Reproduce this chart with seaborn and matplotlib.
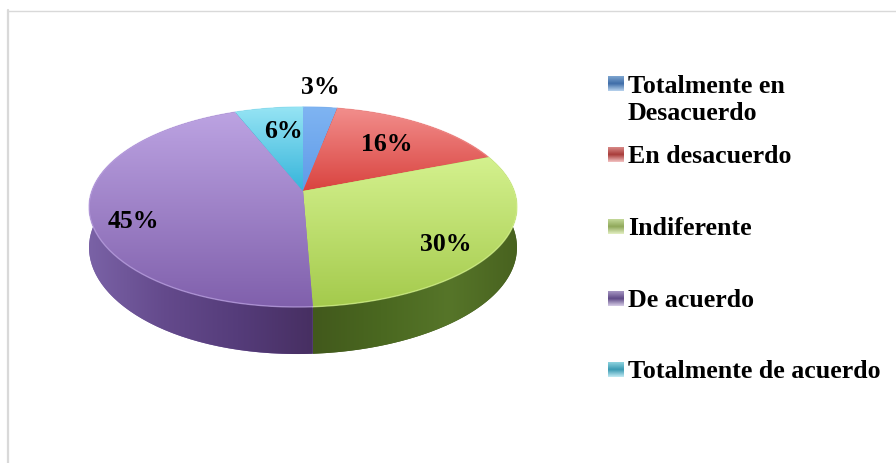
import numpy as np
import matplotlib
matplotlib.use('Agg')
from matplotlib import pyplot as plt
from matplotlib.patches import PathPatch, Rectangle
from matplotlib.path import Path
from matplotlib.transforms import Affine2D
import seaborn as sns

# ----- datos -----
categorias = ['Totalmente en\nDesacuerdo', 'En desacuerdo', 'Indiferente', 'De acuerdo', 'Totalmente de acuerdo']
valores = [3, 16, 30, 45, 6]

# ----- estilos -----
tapa_arriba = ['#7fb4f2', '#f28e8c', '#d4f18e', '#bca3e2', '#96e4f4']
tapa_abajo = ['#5f9be8', '#d9433f', '#a4ca4c', '#8060ac', '#35b4da']
lado_colores = [['#3f6da8', '#3f6da8'], ['#9c3532', '#9c3532'],
                ['#42591c', '#4a6820', '#567529', '#48621f'],
                ['#7a62a6', '#644a8c', '#553c7a', '#472f62'],
                ['#2a8aa5', '#2a8aa5']]
muestra_colores = [['#7fa6d0', '#3f6da8', '#b9d4ee'], ['#d98a88', '#a83c3a', '#f4c4c4'],
                   ['#c4d99a', '#8fa85a', '#e4f0c4'], ['#a898c4', '#5f4a86', '#d8cfe8'],
                   ['#8fd4e0', '#3a9ab2', '#c4ecf4']]
leyenda_base = [92, 163, 235, 307, 378]
etiquetas_xy = [(320, 87), (387, 145), (446, 245), (133, 222), (283, 132)]

# perspectiva de la tapa, en pixeles
cx, cy = 303, 192
a, b, k = 211.2, 97.44, 0.16
alto = 39.5

sns.set_theme(style='white')
plt.rcParams['font.family'] = ['Liberation Serif', 'DejaVu Serif']

fig = plt.figure(figsize=(8.96, 4.64), dpi=100)
ax = fig.add_axes([0, 0, 1, 1])
wedges, _ = ax.pie(valores, startangle=90, counterclock=False, radius=1, center=(0, 0))
ax.set_aspect('auto')
ax.set_axis_off()


def proyectar(p):
    den = 1 + k * p[:, 1]
    # pequeño ajuste para que el corte de abajo caiga donde en el original
    ajuste = 6 * np.clip(-p[:, 1], 0, 1) ** 4
    return np.column_stack([cx + a * p[:, 0] / den - ajuste, cy - b * p[:, 1] / den])


def degradado(patch, colores, vertical=True):
    cmap = sns.blend_palette(colores, as_cmap=True)
    v = patch.get_patch_transform().transform(patch.get_path().vertices)
    x0, y0 = v.min(axis=0)
    x1, y1 = v.max(axis=0)
    g = np.linspace(0, 1, 256)
    g = g[:, None] if vertical else g[None, :]
    im = ax.imshow(g, cmap=cmap, extent=(x0, x1, y1, y0), aspect='auto', vmin=0, vmax=1,
                   origin='upper', interpolation='bilinear', zorder=patch.get_zorder())
    im.set_clip_path(patch)


tapas = []
lados = []
for w in wedges:
    w.set_visible(False)
    # aplanar la curva del sector antes de proyectarla
    escala = Affine2D().scale(2000)
    poli = w.get_path().to_polygons(escala, closed_only=True)[0] / 2000
    r = np.hypot(poli[:, 0], poli[:, 1])
    arco = poli[:-1][r[:-1] > 0.999]
    tapas.append(proyectar(poli))
    lados.append(arco)

# paredes primero, la tapa las tapa
for i, arco in enumerate(lados):
    arr = proyectar(arco)
    aba = arr.copy()
    aba[:, 1] += alto / (1 + k * arco[:, 1])
    pared = np.vstack([arr, aba[::-1], arr[:1]])
    p = PathPatch(Path(pared), fc=lado_colores[i][0], ec='none', zorder=2)
    ax.add_patch(p)
    degradado(p, lado_colores[i], vertical=False)

for i, t in enumerate(tapas):
    p = PathPatch(Path(np.vstack([t, t[:1]])), fc=tapa_abajo[i], ec='none', zorder=3)
    ax.add_patch(p)
    degradado(p, [tapa_arriba[i], tapa_abajo[i]])
    # borde claro del frente
    arr = proyectar(lados[i])
    ax.plot(arr[:, 0], arr[:, 1], color=tapa_arriba[i], lw=1.0, alpha=0.7, zorder=4)

# porcentajes
for v, (x, y) in zip(valores, etiquetas_xy):
    ax.text(x, y, f'{v}%', ha='center', va='center', fontsize=18.5, fontweight='bold',
            color='black', zorder=6)

# leyenda
for i, (cat, y) in enumerate(zip(categorias, leyenda_base)):
    s = Rectangle((608, y - 15), 16, 15, fc=tapa_abajo[i], ec='none', zorder=3)
    ax.add_patch(s)
    degradado(s, muestra_colores[i])
    y_texto = y + 28 if '\n' in cat else y
    ax.text(628, y_texto, cat, ha='left', va='baseline', fontsize=18.6, fontweight='bold',
            color='black', linespacing=1.22, zorder=6)

# marco del grafico: solo se ve arriba y a la izquierda
ax.plot([8, 896], [11.5, 11.5], color='#d9d9d9', lw=1.0, zorder=1)
ax.plot([8, 8], [11, 464], color='#d9d9d9', lw=1.6, zorder=1)

ax.set_xlim(0, 896)
ax.set_ylim(464, 0)
fig.savefig('out.png', dpi=100, facecolor='white')
